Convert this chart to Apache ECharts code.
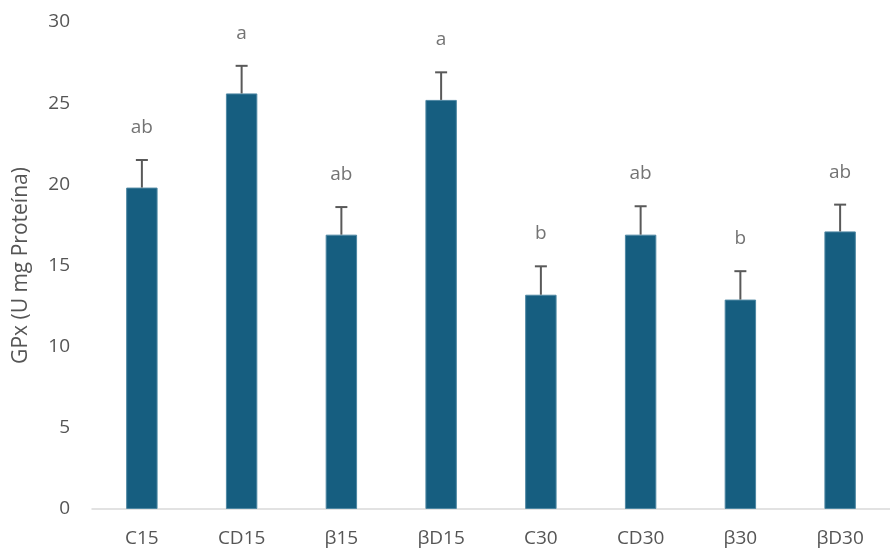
<!DOCTYPE html>
<html>
<head>
<meta charset="utf-8">
<script src="https://cdn.jsdelivr.net/npm/echarts@6/dist/echarts.min.js"></script>
<style>
  html, body { margin: 0; padding: 0; background: #fff; }
  #chart { width: 890px; height: 550px; }
</style>
</head>
<body>
<div id="chart"></div>
<script>
// data
var categories = ['C15', 'CD15', 'β15', 'βD15', 'C30', 'CD30', 'β30', 'βD30'];
var means = [19.8, 25.6, 16.9, 25.2, 13.2, 16.9, 12.9, 17.1];
var errors = [1.7, 1.7, 1.7, 1.7, 1.75, 1.75, 1.75, 1.65];
var letters = ['ab', 'a', 'ab', 'a', 'b', 'ab', 'b', 'ab'];

var textColor = '#555555';
var fontFamily = '"Open Sans", "Noto Sans", sans-serif';

var chart = echarts.init(document.getElementById('chart'));

var option = {
  animation: false,
  grid: { left: 92, top: 22, bottom: 41, width: 810 },
  xAxis: {
    type: 'category',
    data: categories,
    axisLine: { lineStyle: { color: '#d9d9d9', width: 1.5 } },
    axisTick: { show: false },
    axisLabel: { color: textColor, fontSize: 19, fontFamily: fontFamily, margin: 20 }
  },
  yAxis: {
    type: 'value',
    min: 0,
    max: 30,
    interval: 5,
    name: 'GPx (U mg Proteína)',
    nameLocation: 'middle',
    nameGap: 60,
    nameTextStyle: { color: textColor, fontSize: 21, fontFamily: fontFamily },
    axisLine: { show: false },
    axisTick: { show: false },
    splitLine: { show: false },
    axisLabel: { color: textColor, fontSize: 19, fontFamily: fontFamily, margin: 22 }
  },
  series: [
    {
      type: 'bar',
      data: means,
      barWidth: '31.5%',
      itemStyle: { color: '#165e80', borderColor: '#4f88a3', borderWidth: 1 },
      z: 2
    },
    {
      // error bars (upper only, with cap)
      type: 'custom',
      data: means.map(function (m, i) { return [i, m, m + errors[i]]; }),
      renderItem: function (params, api) {
        var i = api.value(0);
        var lo = api.coord([i, api.value(1)]);
        var hi = api.coord([i, api.value(2)]);
        var capHalf = 6;
        var style = { stroke: '#595959', lineWidth: 2 };
        return {
          type: 'group',
          children: [
            { type: 'line', shape: { x1: lo[0], y1: lo[1], x2: hi[0], y2: hi[1] }, style: style },
            { type: 'line', shape: { x1: hi[0] - capHalf, y1: hi[1], x2: hi[0] + capHalf, y2: hi[1] }, style: style }
          ]
        };
      },
      z: 3
    },
    {
      // significance letters
      type: 'scatter',
      symbolSize: 0,
      data: means.map(function (m, i) { return [i, m + errors[i]]; }),
      label: {
        show: true,
        position: 'top',
        distance: 23,
        color: '#505050',
        fontSize: 19,
        fontFamily: fontFamily,
        formatter: function (p) { return letters[p.dataIndex]; }
      },
      z: 4
    }
  ]
};

chart.setOption(option);
</script>
</body>
</html>
